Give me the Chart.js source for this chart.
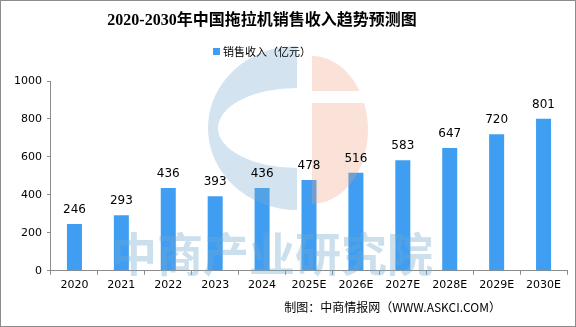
<!DOCTYPE html>
<html>
<head>
<meta charset="utf-8">
<script src="https://cdn.jsdelivr.net/npm/chart.js@4.4.1/dist/chart.umd.min.js"></script>
<style>
    html, body { margin: 0; padding: 0; background: #fff; }
    #wrap { position: relative; width: 574px; height: 325px; border: 1px solid #8c8c8c; }
</style>
</head>
<body>
<div id="wrap"><canvas id="salesChart" width="574" height="325"></canvas></div>
<script>
// Data
const years = ['2020', '2021', '2022', '2023', '2024', '2025E', '2026E', '2027E', '2028E', '2029E', '2030E'];
const salesRevenue = [246, 293, 436, 393, 436, 478, 516, 583, 647, 720, 801];
const seriesName = '销售收入（亿元）';
const chartTitle = '2020-2030年中国拖拉机销售收入趋势预测图';
const sourceNote = '制图：中商情报网（WWW.ASKCI.COM）';
const watermarkText = '中商产业研究院';

const barColor = '#3f9ef2';
const axisColor = '#8c8c8c';

// Title, legend, value labels, footer and the faint watermark
const extrasPlugin = {
    id: 'extras',
    afterDatasetsDraw(chart) {
        const ctx = chart.ctx;
        ctx.save();

        // watermark logo (semi transparent, over the bars)
        ctx.fillStyle = 'rgba(120, 170, 205, 0.33)';
        ctx.beginPath();
        ctx.ellipse(296, 127, 89, 82, 0, Math.PI / 2, Math.PI * 1.5);
        ctx.ellipse(296, 127, 79, 40, 0, Math.PI * 1.5, Math.PI / 2, true);
        ctx.closePath();
        ctx.fill();
        ctx.fillStyle = 'rgba(240, 160, 125, 0.3)';
        ctx.beginPath();
        ctx.ellipse(311, 129, 56, 74, 0, Math.PI * 1.5, Math.PI / 2);
        ctx.closePath();
        ctx.fill();
        ctx.fillStyle = '#fff';
        ctx.fillRect(310, 90, 60, 12);

        ctx.fillStyle = 'rgba(110, 165, 205, 0.36)';
        ctx.font = 'bold 46px "Noto Sans CJK SC", sans-serif';
        ctx.textAlign = 'center';
        ctx.textBaseline = 'middle';
        ctx.fillText(watermarkText, 271, 253);

        // value labels above bars
        ctx.fillStyle = '#000';
        ctx.font = '12px "DejaVu Sans", sans-serif';
        ctx.textAlign = 'center';
        ctx.textBaseline = 'bottom';
        chart.getDatasetMeta(0).data.forEach((bar, i) => {
            ctx.fillText(salesRevenue[i], bar.x, bar.y - 8);
        });

        // title
        ctx.font = 'bold 16px "Liberation Serif", "Noto Sans CJK SC", serif';
        ctx.textBaseline = 'middle';
        ctx.fillText(chartTitle, 261, 20);

        // legend
        ctx.fillStyle = barColor;
        ctx.fillRect(212, 47, 7, 7);
        ctx.fillStyle = '#000';
        ctx.font = '11px "Noto Sans CJK SC", sans-serif';
        ctx.textAlign = 'left';
        ctx.fillText(seriesName, 222, 51);

        // footer
        ctx.font = '12px "Noto Sans CJK SC", sans-serif';
        ctx.textAlign = 'right';
        ctx.fillText(sourceNote, 500, 306);
        ctx.restore();
    }
};

const ctx = document.getElementById('salesChart').getContext('2d');
new Chart(ctx, {
    type: 'bar',
    data: {
        labels: years,
        datasets: [{
            label: seriesName,
            data: salesRevenue,
            backgroundColor: barColor,
            barPercentage: 0.64,
            categoryPercentage: 0.5
        }]
    },
    options: {
        responsive: false,
        animation: false,
        layout: {
            padding: { left: 8, right: 8, top: 80, bottom: 30 }
        },
        plugins: {
            title: { display: false },
            legend: { display: false },
            tooltip: { enabled: false }
        },
        scales: {
            x: {
                grid: {
                    display: true,
                    drawOnChartArea: false,
                    drawTicks: true,
                    tickLength: 4,
                    color: axisColor
                },
                border: { color: axisColor, width: 1 },
                ticks: {
                    color: '#000',
                    font: { family: '"DejaVu Sans", sans-serif', size: 11 },
                    maxRotation: 0,
                    padding: 4
                }
            },
            y: {
                min: 0,
                max: 1000,
                grid: {
                    display: true,
                    drawOnChartArea: false,
                    drawTicks: true,
                    tickLength: 4,
                    color: axisColor
                },
                border: { color: axisColor, width: 1 },
                ticks: {
                    stepSize: 200,
                    color: '#000',
                    font: { family: '"DejaVu Sans", sans-serif', size: 11 },
                    padding: 5,
                    callback: (v) => String(v)
                }
            }
        }
    },
    plugins: [extrasPlugin]
});
</script>
</body>
</html>
